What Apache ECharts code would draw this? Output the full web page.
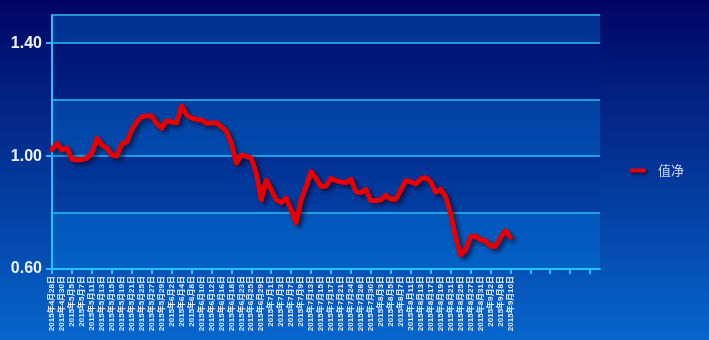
<!DOCTYPE html>
<html>
<head>
<meta charset="utf-8">
<script src="https://cdn.jsdelivr.net/npm/echarts@6/dist/echarts.min.js"></script>
<style>
html,body{margin:0;padding:0;background:#000564;}
#c{width:709px;height:340px;}
</style>
</head>
<body>
<div id="c"></div>
<script>
// trading days shown on the category axis
const categories = [
'2015年4月28日','2015年4月29日','2015年4月30日','2015年5月4日','2015年5月5日','2015年5月6日','2015年5月7日','2015年5月8日',
'2015年5月11日','2015年5月12日','2015年5月13日','2015年5月14日','2015年5月15日',
'2015年5月18日','2015年5月19日','2015年5月20日','2015年5月21日','2015年5月22日',
'2015年5月25日','2015年5月26日','2015年5月27日','2015年5月28日','2015年5月29日',
'2015年6月1日','2015年6月2日','2015年6月3日','2015年6月4日','2015年6月5日',
'2015年6月8日','2015年6月9日','2015年6月10日','2015年6月11日','2015年6月12日',
'2015年6月15日','2015年6月16日','2015年6月17日','2015年6月18日','2015年6月19日',
'2015年6月23日','2015年6月24日','2015年6月25日','2015年6月26日',
'2015年6月29日','2015年6月30日','2015年7月1日','2015年7月2日','2015年7月3日',
'2015年7月6日','2015年7月7日','2015年7月8日','2015年7月9日','2015年7月10日',
'2015年7月13日','2015年7月14日','2015年7月15日','2015年7月16日','2015年7月17日',
'2015年7月20日','2015年7月21日','2015年7月22日','2015年7月24日',
'2015年7月27日','2015年7月28日','2015年7月29日','2015年7月30日','2015年7月31日',
'2015年8月3日','2015年8月4日','2015年8月5日','2015年8月6日','2015年8月7日',
'2015年8月10日','2015年8月11日','2015年8月12日','2015年8月13日','2015年8月14日',
'2015年8月17日','2015年8月18日','2015年8月19日','2015年8月20日','2015年8月21日',
'2015年8月24日','2015年8月25日','2015年8月26日','2015年8月27日','2015年8月28日',
'2015年8月31日','2015年9月1日','2015年9月2日','2015年9月7日','2015年9月8日','2015年9月9日','2015年9月10日'
];
// net value series
const netValues = [
1.024,1.045,1.022,1.028,0.989,0.986,0.988,0.993,
1.011,1.063,1.039,1.028,1.004,
1.000,1.043,1.051,1.093,1.122,
1.140,1.142,1.142,1.116,1.099,
1.126,1.121,1.118,1.178,1.146,
1.135,1.130,1.128,1.116,1.117,
1.118,1.104,1.087,1.045,0.975,
1.004,1.000,0.992,0.939,
0.845,0.915,0.880,0.845,0.835,
0.851,0.809,0.764,0.845,0.892,
0.945,0.921,0.892,0.894,0.921,
0.913,0.908,0.906,0.918,
0.874,0.870,0.882,0.842,0.843,
0.845,0.862,0.847,0.847,0.880,
0.913,0.909,0.901,0.919,0.924,
0.909,0.872,0.882,0.856,0.797,
0.714,0.650,0.667,0.714,0.717,
0.703,0.700,0.681,0.681,0.710,0.736,0.712
];
const seriesName = '值净';
const yLabelValues = [0.6, 1.0, 1.4];
const axisSlotCount = 111; // axis keeps room for more trading days than plotted

const axisCategories = categories.concat(new Array(axisSlotCount - categories.length).fill(''));

const chart = echarts.init(document.getElementById('c'), null, {renderer: 'canvas'});
const cyan = '#22c4ff';
chart.setOption({
  animation: false,
  backgroundColor: {
    type: 'linear', x: 0, y: 0, x2: 0, y2: 1,
    colorStops: [
      {offset: 0, color: '#000564'},
      {offset: 1, color: '#0666cc'}
    ]
  },
  grid: {left: 52, right: 109, top: 15, bottom: 71},
  legend: {
    orient: 'vertical',
    right: 20,
    top: 159,
    icon: 'roundRect',
    itemWidth: 16,
    itemHeight: 4,
    itemGap: 10,
    itemStyle: {shadowColor: 'rgba(0,0,20,0.6)', shadowBlur: 3, shadowOffsetX: 2, shadowOffsetY: 2},
    textStyle: {color: '#d0d8ee', fontSize: 13, fontFamily: 'Noto Sans CJK SC', padding: [0, 0, 0, 7]},
    data: [seriesName]
  },
  xAxis: {
    type: 'category',
    boundaryGap: false,
    data: axisCategories,
    axisLine: {lineStyle: {color: cyan, width: 2}},
    axisTick: {interval: 3, length: 5, lineStyle: {color: cyan, width: 2}},
    axisLabel: {
      interval: 1, rotate: 90, margin: 7,
      color: '#e4ecff', fontSize: 8, fontWeight: 'bold',
      fontFamily: 'Liberation Sans, Noto Sans CJK SC'
    },
    splitLine: {show: false}
  },
  yAxis: [{
    type: 'value',
    min: 0.6, max: 1.5, interval: 0.2,
    axisLine: {show: false},
    axisTick: {show: false},
    axisLabel: {show: false},
    splitLine: {show: true, lineStyle: {color: '#29bff5', width: 1.5}},
    splitArea: {show: true, areaStyle: {color: ['rgba(0,130,230,0.32)', 'rgba(0,40,150,0.1)']}}
  }, {
    type: 'value',
    position: 'left',
    min: 0.6, max: 1.5,
    axisLine: {show: true, lineStyle: {color: cyan, width: 2}},
    axisTick: {show: true, customValues: yLabelValues, length: 6, lineStyle: {color: cyan, width: 2}},
    axisLabel: {
      customValues: yLabelValues,
      formatter: v => v.toFixed(2),
      color: '#eef2ff', fontSize: 16, fontWeight: 'bold',
      fontFamily: 'Liberation Sans', margin: 10
    },
    splitLine: {show: false},
    splitArea: {show: false}
  }],
  series: [{
    name: seriesName,
    type: 'line',
    yAxisIndex: 0,
    data: netValues,
    showSymbol: false,
    symbol: 'none',
    itemStyle: {color: '#e60000'},
    lineStyle: {
      color: '#e60000', width: 5, join: 'round', cap: 'round',
      shadowColor: 'rgba(0,0,30,0.6)', shadowBlur: 4, shadowOffsetX: 3, shadowOffsetY: 3
    }
  }]
});
</script>
</body>
</html>
